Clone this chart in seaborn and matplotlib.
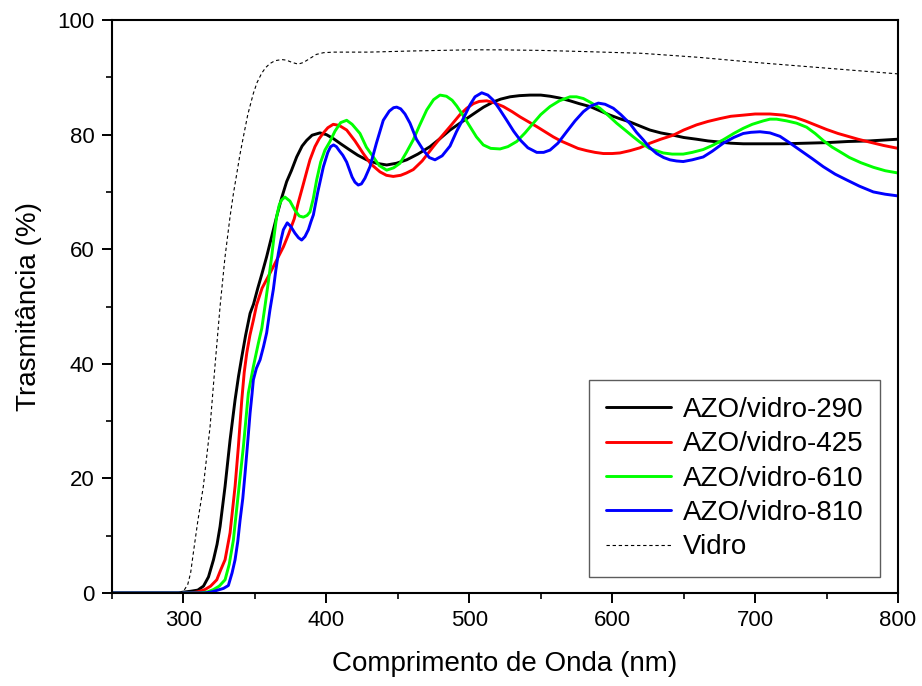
import numpy as np
import pandas as pd
import matplotlib
matplotlib.use("Agg")
import matplotlib.pyplot as plt
from matplotlib.ticker import MultipleLocator
import seaborn as sns

# ---- data ----
x_290 = [250, 296, 300, 305, 310, 314, 317.5, 321, 323.5, 325.6, 329.1, 332.6, 336.1, 338.5, 340.8, 343.5, 346.6, 349,
         352, 355, 358.2, 362, 365.2, 368.5, 372.2, 375.5, 379.2, 383, 386.2, 390, 395.5, 400, 404.9, 410, 416.5,
         422, 428.2, 435, 442.2, 449, 456.2, 464, 472.5, 479, 486.5, 493.5, 500.5, 505.2, 510, 516.8, 522, 528.5,
         535, 542.5, 550, 556.5, 563, 570.5, 577, 584.5, 591, 598.5, 605, 612.5, 619.4, 626.4, 634, 642.7, 650,
         659, 667, 675.4, 683, 691.7, 700, 710.4, 720, 735, 750, 765, 780, 800]
y_290 = [0, 0, 0.15, 0.3, 0.5, 1.2, 2.8, 5.8, 8.5, 11.6, 18.6, 26.7, 33.7, 37.8, 41.2, 45, 48.8, 50.4,
         53.2, 55.8, 58.7, 62.5, 65.7, 68.8, 71.8, 73.7, 76.1, 78, 79, 79.9, 80.3, 80, 79.3, 78.4, 77.3,
         76.4, 75.6, 75, 74.7, 75, 75.6, 76.6, 77.9, 79.2, 80.8, 82, 83.2, 84, 84.8, 85.7, 86.2, 86.6,
         86.8, 86.9, 86.9, 86.7, 86.4, 85.9, 85.4, 84.9, 84.2, 83.4, 82.8, 82.2, 81.5, 80.8, 80.3, 79.9, 79.5,
         79.2, 78.9, 78.7, 78.5, 78.4, 78.4, 78.4, 78.4, 78.5, 78.6, 78.8, 78.9, 79.2]

x_425 = [250, 305, 310, 315, 319, 323.3, 326, 329.1, 332.6, 336.1, 338.4, 340.8, 342.5, 344.3, 346.5, 348.9, 351.2,
         355, 360.5, 365, 369.9, 373.5, 377.5, 380.5, 383.8, 386.5, 388.5, 392, 395, 397.9, 401, 404.8, 409,
         414.2, 420, 425.8, 431, 437.5, 442, 446.8, 452, 456, 460.8, 467, 474.8, 480, 486.5, 493.5, 498.2,
         502.8, 507, 512.2, 517, 523.8, 530, 535.5, 541, 547.2, 553, 558.8, 564, 570.5, 576, 582.2, 588, 593.8,
         600, 605.4, 612.5, 619.4, 626.4, 634, 642.7, 650, 659, 667, 675.4, 683, 691.7, 700, 710.4, 720, 728,
         735, 742, 750, 758, 765, 772, 780, 790, 800]
y_425 = [0, 0, 0.2, 0.6, 1.2, 2.3, 4, 5.8, 10.5, 18.6, 25.5, 33.7, 38.5, 41.9, 45, 47.6, 50.3,
         53.2, 55.8, 58, 60.4, 62.6, 65.3, 68.3, 71.3, 73.8, 75.6, 77.9, 79.3, 80.3, 81.2, 81.8, 81.6,
         80.8, 78.9, 76.7, 74.9, 73.5, 72.9, 72.7, 72.9, 73.3, 73.9, 75.4, 77.9, 79.5, 81.4, 83.5, 84.6,
         85.4, 85.8, 85.9, 85.6, 84.9, 84, 83.1, 82.3, 81.4, 80.5, 79.6, 78.9, 78.2, 77.6, 77.2, 76.9, 76.7,
         76.7, 76.8, 77.2, 77.7, 78.5, 79.2, 79.9, 80.8, 81.7, 82.3, 82.8, 83.2, 83.4, 83.6, 83.6, 83.4, 83.0,
         82.4, 81.7, 80.9, 80.2, 79.7, 79.2, 78.7, 78.1, 77.6]

x_610 = [250, 312, 317, 321, 325, 329.1, 332, 334.9, 338.4, 341.9, 345.4, 348.9, 352.4, 354.8, 357, 359.5, 361.7,
         363.5, 365.2, 367, 368.7, 371, 374.5, 378, 381, 383.9, 386.5, 388.5, 390.8, 393.2, 396, 399, 402.5,
         406, 410, 414.2, 418, 423.5, 428, 432.8, 437, 442.2, 447, 451.5, 456, 460.8, 465, 470.2, 475, 479.5,
         484, 488, 491.2, 496, 500.5, 505, 509.8, 515, 521.5, 527, 533.2, 539, 544.8, 550, 556.5, 563, 570.5,
         575, 579.8, 585, 591.4, 597, 603.1, 609, 614.8, 619.4, 626, 635.7, 642, 649.7, 656, 663.7, 670, 677.7,
         685, 691.7, 698, 705.7, 710.4, 715, 722, 729, 736, 742, 748, 754, 759.4, 766, 774, 782.7, 791, 800]
y_610 = [0, 0, 0.2, 0.6, 1.2, 2.3, 5, 9.2, 17.4, 25.5, 34.9, 39.5, 43.6, 46.2, 50, 54.5, 58.7,
         62.5, 65.7, 67.7, 68.6, 69.1, 68.4, 66.8, 65.8, 65.6, 65.9, 66.5, 68.8, 72.1, 75.2, 77.3, 78.8,
         80.6, 82.1, 82.5, 81.8, 80.2, 77.8, 76.1, 74.6, 73.8, 74.2, 75, 76.9, 79.1, 81.5, 84.3, 86.1, 86.9,
         86.7, 86.0, 85.0, 83.2, 81.4, 79.6, 78.2, 77.6, 77.5, 77.9, 78.8, 80.3, 82, 83.5, 84.9, 85.9, 86.6,
         86.6, 86.3, 85.6, 84.6, 83.4, 82, 80.8, 79.6, 78.7, 77.6, 76.8, 76.6, 76.6, 76.9, 77.4, 78.1, 79.1,
         80.2, 81.1, 81.8, 82.4, 82.7, 82.7, 82.4, 82.0, 81.3, 80.2, 78.9, 77.8, 77, 76, 75.1, 74.3, 73.7, 73.3]

x_810 = [250, 315, 320, 324, 328, 331.4, 334, 336.1, 338, 339.6, 341.5, 343.1, 345, 346.6, 348, 348.9, 351, 353.6,
         356, 358.2, 360.5, 362.9, 364.6, 366.4, 368.2, 369.9, 372.6, 375, 378, 380.5, 382.7, 385, 387.4, 389.2,
         390.9, 394, 397.9, 401, 403, 405, 407, 409, 411.5, 414.2, 418, 420, 422.3, 424.5, 427, 430.5, 435,
         439.8, 444, 447, 449.2, 452, 455, 458.5,
         463, 467.8, 472, 476, 481, 486.5, 491, 495.8, 500.5, 504, 508.7, 513, 516.8, 521, 526.2, 531, 535.5,
         541, 547.2, 552, 556.5, 562, 568.1, 574, 579.8, 585, 590.3, 595, 600.8, 606, 612.5, 617, 621.7, 626,
         631.1, 636, 640.4, 645, 649.7, 656, 663.7, 670, 677.7, 685, 691.7, 697, 703.4, 710.4, 717.4, 724, 731.4,
         740, 747.7, 756, 764, 773, 782.7, 791, 800]
y_810 = [0, 0, 0.2, 0.5, 0.8, 1.3, 3.5, 5.8, 9, 12.7, 16.5, 20.9, 26.5, 31.4, 34.8, 37.2, 39.2, 40.7,
         43, 45.4, 49.4, 53, 56.3, 59.3, 61.6, 63.4, 64.6, 64, 62.8, 62, 61.6, 62.2, 63.4, 64.8,
         66, 70, 74.4, 76.9, 77.9, 78.2, 77.9, 77.2, 76.4, 75.2, 72.6, 71.7, 71.2, 71.4, 72.4, 74.4, 78.5,
         82.5, 84.1, 84.7, 84.8, 84.5, 83.6, 82,
         79.2, 77.3, 76, 75.6, 76.3, 78, 80.5, 82.8, 85.2, 86.6, 87.3, 86.9, 86, 84.5, 82.5, 80.6, 79.1,
         77.7, 76.9, 76.9, 77.3, 78.5, 80.5, 82.4, 84, 85, 85.5, 85.3, 84.6, 83.5, 81.9, 80.4, 79.1, 77.8,
         76.7, 76, 75.6, 75.4, 75.3, 75.6, 76.1, 77.1, 78.5, 79.5, 80.2, 80.4, 80.5, 80.3, 79.7, 78.6, 77.3,
         75.8, 74.4, 73.1, 72.1, 71, 70, 69.6, 69.3]

x_vidro = [250, 296, 300, 303, 305, 306.9, 310, 313.9, 318.6, 322, 325.6, 329, 332.6, 335, 337.3, 339.5, 341.9,
           345, 348.9, 351.5, 354.7, 357.5, 360.5, 364, 368.7, 372, 376, 380.3, 384, 388.5, 393, 398, 405,
           430, 460, 500, 520, 550, 580, 620, 660, 700, 740, 770, 800]
y_vidro = [0, 0, 0.3, 1.5, 3.5, 7, 12.5, 18.6, 29, 39.5, 50, 58.5, 65.7, 69.8, 73.2, 76.5, 79.6,
           83.5, 87.2, 89.1, 90.7, 91.7, 92.4, 92.9, 93.1, 93, 92.6, 92.3, 92.6, 93.3, 94, 94.3, 94.4,
           94.4, 94.6, 94.8, 94.8, 94.7, 94.5, 94.2, 93.5, 92.6, 91.8, 91.2, 90.6]

labels = ["AZO/vidro-290", "AZO/vidro-425", "AZO/vidro-610", "AZO/vidro-810", "Vidro"]
colors = ["#000000", "#FF0000", "#00FF00", "#0000FF", "#000000"]

xs = [x_290, x_425, x_610, x_810, x_vidro]
ys = [y_290, y_425, y_610, y_810, y_vidro]

frames = []
for lab, x, y in zip(labels, xs, ys):
    frames.append(pd.DataFrame({"wl": x, "T": y, "amostra": lab}))
df = pd.concat(frames, ignore_index=True)

sns.set_style("ticks")
plt.rcParams["font.family"] = ["Liberation Sans", "DejaVu Sans"]
for k in ["text.color", "axes.labelcolor", "xtick.color", "ytick.color", "axes.edgecolor"]:
    plt.rcParams[k] = "black"

fig = plt.figure(figsize=(9.22, 6.86), dpi=100)
ax = fig.add_axes([0.1215, 0.1356, 0.8525, 0.8352])

for lab, col in zip(labels, colors):
    sub = df[df["amostra"] == lab]
    if lab == "Vidro":
        sns.lineplot(data=sub, x="wl", y="T", ax=ax, color=col, lw=0.8,
                     linestyle=(0, (3, 2.5)), label=lab, sort=False, estimator=None)
    else:
        sns.lineplot(data=sub, x="wl", y="T", ax=ax, color=col, lw=2.1,
                     label=lab, sort=False, estimator=None)

ax.set_xlim(250, 800)
ax.set_ylim(0, 100)
ax.xaxis.set_major_locator(MultipleLocator(100))
ax.xaxis.set_minor_locator(MultipleLocator(50))
ax.yaxis.set_major_locator(MultipleLocator(20))
ax.yaxis.set_minor_locator(MultipleLocator(10))
ax.tick_params(which="major", direction="out", length=7.5, width=1.4, labelsize=16, pad=5,
               color="black", labelcolor="black")
ax.tick_params(which="minor", direction="out", length=4, width=1.2, color="black")
for s in ax.spines.values():
    s.set_linewidth(1.5)
    s.set_color("black")

ax.set_xlabel("Comprimento de Onda (nm)", fontsize=20, labelpad=14)
ax.set_ylabel("Trasmitância (%)", fontsize=20, labelpad=11)

leg = ax.legend(loc="lower right", bbox_to_anchor=(0.977, 0.028), borderaxespad=0,
                fontsize=20, frameon=True, fancybox=False, handlelength=2.35,
                handletextpad=0.4, labelspacing=0.3, borderpad=0.6)
leg.get_frame().set_edgecolor("#333333")
leg.get_frame().set_linewidth(1.0)

fig.savefig("out.png", dpi=100)
